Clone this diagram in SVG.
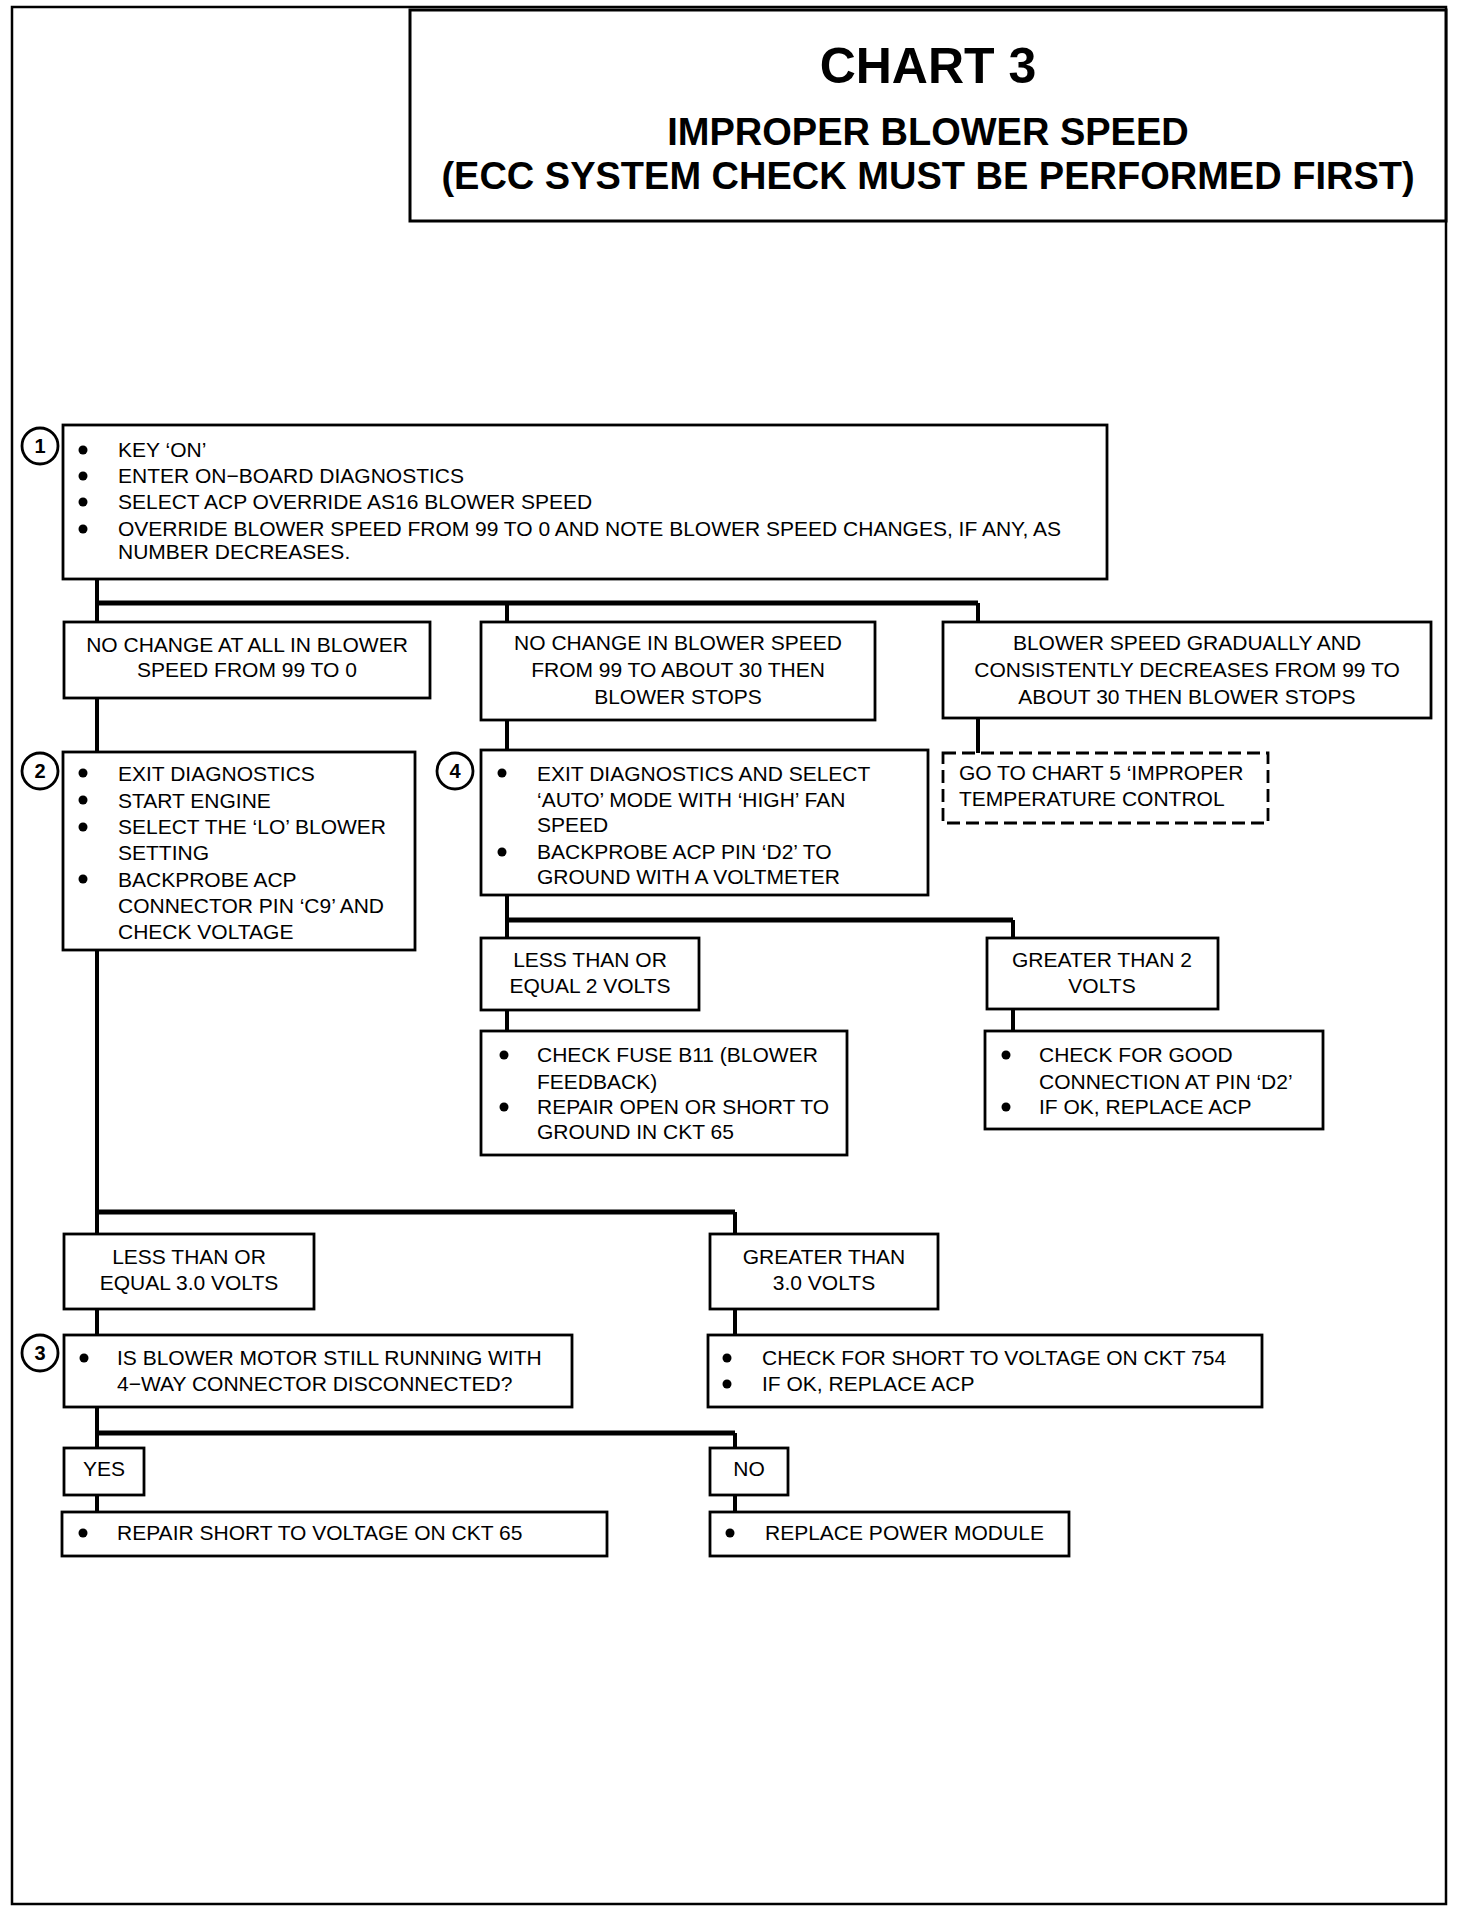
<svg xmlns="http://www.w3.org/2000/svg" width="1472" height="1912" viewBox="0 0 1472 1912">
<style>
.box{fill:#fff;stroke:#000;stroke-width:2.8}
.dash{fill:#fff;stroke:#000;stroke-width:2.8;stroke-dasharray:13 6}
.t{font-family:"Liberation Sans",Arial,sans-serif;font-size:21px;fill:#000}
.c{text-anchor:middle}
.h{font-family:"Liberation Sans",Arial,sans-serif;font-weight:bold;fill:#000;text-anchor:middle}
.n{font-family:"Liberation Sans",Arial,sans-serif;font-weight:bold;font-size:20px;fill:#000;text-anchor:middle}
.ring{fill:#fff;stroke:#000;stroke-width:2.8}
.v{fill:none;stroke:#000;stroke-width:4}
.bar{fill:none;stroke:#000;stroke-width:5}
.b{fill:#000}
</style>
<rect x="0" y="0" width="1472" height="1912" fill="#fff"/>
<rect x="12" y="7" width="1434" height="1897" fill="none" stroke="#000" stroke-width="2.5"/>
<g id="header">
<rect x="410" y="10" width="1036" height="211" fill="#fff" stroke="#000" stroke-width="3"/>
<text class="h" x="928" y="83" font-size="50">CHART 3</text>
<text class="h" x="928" y="145" font-size="38">IMPROPER BLOWER SPEED</text>
<text class="h" x="928" y="189" font-size="38">(ECC SYSTEM CHECK MUST BE PERFORMED FIRST)</text>
</g>
<g id="connectors">
<path class="v" d="M97 579V622M97 698V752M97 950V1234M97 1309V1335M97 1407V1448M97 1495V1512"/>
<path class="bar" d="M97 603H978"/>
<path class="v" d="M507 603V622M978 603V622M507 720V750M978 718V753"/>
<path class="v" d="M507 895V938M1013 920V938M507 1010V1031M1013 1009V1031"/>
<path class="bar" d="M507 920H1013"/>
<path class="bar" d="M97 1212H735"/>
<path class="v" d="M735 1212V1234M735 1309V1335"/>
<path class="bar" d="M97 1433H735"/>
<path class="v" d="M735 1433V1448M735 1495V1512"/>
</g>
<g id="node1">
<rect class="box" x="63" y="425" width="1044" height="154"/>
<circle class="ring" cx="40" cy="446" r="18"/><text class="n" x="40" y="453">1</text>
<circle class="b" cx="83" cy="450" r="4.5"/><text class="t" x="118" y="457">KEY ‘ON’</text>
<circle class="b" cx="83" cy="476" r="4.5"/><text class="t" x="118" y="483">ENTER ON−BOARD DIAGNOSTICS</text>
<circle class="b" cx="83" cy="502" r="4.5"/><text class="t" x="118" y="509">SELECT ACP OVERRIDE AS16 BLOWER SPEED</text>
<circle class="b" cx="83" cy="529" r="4.5"/><text class="t" x="118" y="536">OVERRIDE BLOWER SPEED FROM 99 TO 0 AND NOTE BLOWER SPEED CHANGES, IF ANY, AS</text>
<text class="t" x="118" y="559">NUMBER DECREASES.</text>
</g>
<g id="noChangeAll">
<rect class="box" x="64" y="622" width="366" height="76"/>
<text class="t c" x="247" y="652">NO CHANGE AT ALL IN BLOWER</text>
<text class="t c" x="247" y="677">SPEED FROM 99 TO 0</text>
</g>
<g id="noChange30">
<rect class="box" x="481" y="622" width="394" height="98"/>
<text class="t c" x="678" y="650">NO CHANGE IN BLOWER SPEED</text>
<text class="t c" x="678" y="677">FROM 99 TO ABOUT 30 THEN</text>
<text class="t c" x="678" y="704">BLOWER STOPS</text>
</g>
<g id="gradual">
<rect class="box" x="943" y="622" width="488" height="96"/>
<text class="t c" x="1187" y="650">BLOWER SPEED GRADUALLY AND</text>
<text class="t c" x="1187" y="677">CONSISTENTLY DECREASES FROM 99 TO</text>
<text class="t c" x="1187" y="704">ABOUT 30 THEN BLOWER STOPS</text>
</g>
<g id="node2">
<rect class="box" x="63" y="752" width="352" height="198"/>
<circle class="ring" cx="40" cy="771" r="18"/><text class="n" x="40" y="778">2</text>
<circle class="b" cx="83" cy="773" r="4.5"/><text class="t" x="118" y="780.5">EXIT DIAGNOSTICS</text>
<circle class="b" cx="83" cy="800" r="4.5"/><text class="t" x="118" y="807.5">START ENGINE</text>
<circle class="b" cx="83" cy="827" r="4.5"/><text class="t" x="118" y="834">SELECT THE ‘LO’ BLOWER</text>
<text class="t" x="118" y="860">SETTING</text>
<circle class="b" cx="83" cy="879" r="4.5"/><text class="t" x="118" y="886.5">BACKPROBE ACP</text>
<text class="t" x="118" y="913">CONNECTOR PIN ‘C9’ AND</text>
<text class="t" x="118" y="939">CHECK VOLTAGE</text>
</g>
<g id="node4">
<rect class="box" x="481" y="750" width="447" height="145"/>
<circle class="ring" cx="455" cy="771" r="18"/><text class="n" x="455" y="778">4</text>
<circle class="b" cx="502" cy="773" r="4.5"/><text class="t" x="537" y="780.5">EXIT DIAGNOSTICS AND SELECT</text>
<text class="t" x="537" y="807">‘AUTO’ MODE WITH ‘HIGH’ FAN</text>
<text class="t" x="537" y="832">SPEED</text>
<circle class="b" cx="502" cy="852" r="4.5"/><text class="t" x="537" y="859">BACKPROBE  ACP PIN ‘D2’ TO</text>
<text class="t" x="537" y="884">GROUND WITH A VOLTMETER</text>
</g>
<g id="chart5">
<rect class="dash" x="943" y="753" width="325" height="70"/>
<text class="t" x="959" y="780">GO TO CHART 5 ‘IMPROPER</text>
<text class="t" x="959" y="806">TEMPERATURE CONTROL</text>
</g>
<g id="le2">
<rect class="box" x="481" y="938" width="218" height="72"/>
<text class="t c" x="590" y="967">LESS THAN OR</text>
<text class="t c" x="590" y="993">EQUAL 2 VOLTS</text>
</g>
<g id="gt2">
<rect class="box" x="987" y="938" width="231" height="71"/>
<text class="t c" x="1102" y="967">GREATER THAN 2</text>
<text class="t c" x="1102" y="993">VOLTS</text>
</g>
<g id="fuse">
<rect class="box" x="481" y="1031" width="366" height="124"/>
<circle class="b" cx="504" cy="1055" r="4.5"/><text class="t" x="537" y="1062">CHECK FUSE B11 (BLOWER</text>
<text class="t" x="537" y="1089">FEEDBACK)</text>
<circle class="b" cx="504" cy="1107" r="4.5"/><text class="t" x="537" y="1114">REPAIR OPEN OR SHORT TO</text>
<text class="t" x="537" y="1139">GROUND IN CKT 65</text>
</g>
<g id="goodConn">
<rect class="box" x="985" y="1031" width="338" height="98"/>
<circle class="b" cx="1006" cy="1055" r="4.5"/><text class="t" x="1039" y="1062">CHECK FOR GOOD</text>
<text class="t" x="1039" y="1089">CONNECTION AT PIN ‘D2’</text>
<circle class="b" cx="1006" cy="1107" r="4.5"/><text class="t" x="1039" y="1114">IF OK, REPLACE ACP</text>
</g>
<g id="le3">
<rect class="box" x="64" y="1234" width="250" height="75"/>
<text class="t c" x="189" y="1264">LESS THAN OR</text>
<text class="t c" x="189" y="1290">EQUAL 3.0 VOLTS</text>
</g>
<g id="gt3">
<rect class="box" x="710" y="1234" width="228" height="75"/>
<text class="t c" x="824" y="1264">GREATER THAN</text>
<text class="t c" x="824" y="1290">3.0 VOLTS</text>
</g>
<g id="node3">
<rect class="box" x="64" y="1335" width="508" height="72"/>
<circle class="ring" cx="40" cy="1353" r="18"/><text class="n" x="40" y="1360">3</text>
<circle class="b" cx="84" cy="1358" r="4.5"/><text class="t" x="117" y="1365">IS BLOWER MOTOR STILL RUNNING WITH</text>
<text class="t" x="117" y="1391">4−WAY CONNECTOR DISCONNECTED?</text>
</g>
<g id="ckt754">
<rect class="box" x="708" y="1335" width="554" height="72"/>
<circle class="b" cx="727" cy="1358" r="4.5"/><text class="t" x="762" y="1365">CHECK FOR SHORT TO VOLTAGE ON CKT 754</text>
<circle class="b" cx="727" cy="1384" r="4.5"/><text class="t" x="762" y="1391">IF OK, REPLACE  ACP</text>
</g>
<g id="yes">
<rect class="box" x="64" y="1448" width="80" height="47"/>
<text class="t c" x="104" y="1476">YES</text>
</g>
<g id="no">
<rect class="box" x="710" y="1448" width="78" height="47"/>
<text class="t c" x="749" y="1476">NO</text>
</g>
<g id="repair65">
<rect class="box" x="62" y="1512" width="545" height="44"/>
<circle class="b" cx="83" cy="1533" r="4.5"/><text class="t" x="117" y="1540">REPAIR SHORT TO VOLTAGE ON CKT 65</text>
</g>
<g id="powerModule">
<rect class="box" x="710" y="1512" width="359" height="44"/>
<circle class="b" cx="730" cy="1533" r="4.5"/><text class="t" x="765" y="1540">REPLACE  POWER MODULE</text>
</g>
</svg>
